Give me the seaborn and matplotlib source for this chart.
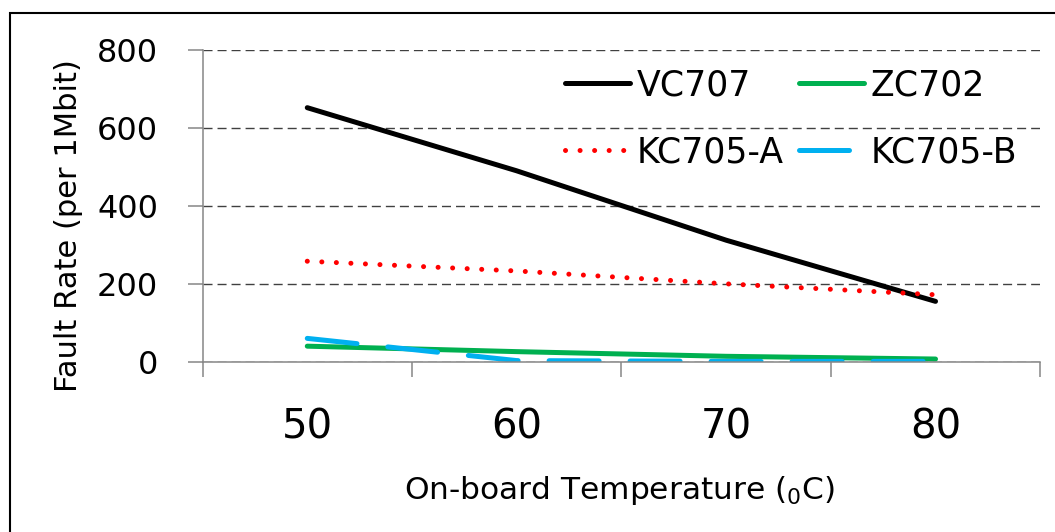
import numpy as np
import pandas as pd
import matplotlib
matplotlib.use("Agg")
import matplotlib.pyplot as plt
from matplotlib.patches import Rectangle
import seaborn as sns

# values
temps = [50, 60, 70, 80]
vc707 = [652, 490, 312, 155]
zc702 = [40, 26, 14, 7]
kc705_a = [258, 233, 200, 172]
kc705_b = [60, 3, 1, 1]
series_names = ["VC707", "ZC702", "KC705-A", "KC705-B"]

data = pd.DataFrame({
    "temp": temps * 4,
    "rate": vc707 + zc702 + kc705_a + kc705_b,
    "board": [n for n in series_names for _ in temps],
})

sns.set_theme(style="white")
plt.rcParams["font.family"] = ["DejaVu Sans"]
plt.rcParams["mathtext.default"] = "regular"
plt.rcParams["text.color"] = "black"
plt.rcParams["axes.labelcolor"] = "black"
plt.rcParams["xtick.color"] = "black"
plt.rcParams["ytick.color"] = "black"

fig = plt.figure(figsize=(10.55, 5.32), dpi=100)
ax = fig.add_axes([0.192, 0.320, 0.794, 0.586])

colors = {"VC707": "#000000", "ZC702": "#00b050", "KC705-A": "#ff0000", "KC705-B": "#00b0f0"}
styles = {"VC707": "-", "ZC702": "-", "KC705-A": (0, (0.01, 2.9)), "KC705-B": (0, (10, 6.2))}

for name in series_names:
    sub = data[data["board"] == name]
    sns.lineplot(data=sub, x="temp", y="rate", ax=ax, color=colors[name],
                 linewidth=3.6, linestyle=styles[name], label=name,
                 dash_capstyle="round", solid_capstyle="round")

ax.set_xlim(45, 85)
ax.set_ylim(0, 800)
ax.set_yticks([0, 200, 400, 600, 800])
ax.set_xticks(temps)
ax.set_xticks([45, 55, 65, 75, 85], minor=True)
ax.tick_params(axis="x", which="major", length=0, pad=33, labelsize=29)
ax.tick_params(axis="x", which="minor", length=11, width=1.1, color="#868686", direction="out", bottom=True)
ax.tick_params(axis="y", length=11, width=1.1, color="#868686", labelcolor="black", pad=21, labelsize=23, left=True)

ax.yaxis.grid(True, linestyle=(0, (6.5, 3.6)), color="#404040", linewidth=1.0)
ax.xaxis.grid(False)
for s in ["top", "right"]:
    ax.spines[s].set_visible(False)
for s in ["left", "bottom"]:
    ax.spines[s].set_color("#868686")
    ax.spines[s].set_linewidth(1.1)

ax.set_xlabel("On-board Temperature ($_{0}$C)", fontsize=22.5)
ax.set_ylabel("Fault Rate (per 1Mbit)", fontsize=22)
ax.xaxis.set_label_coords(0.498, -0.36)
ax.yaxis.set_label_coords(-0.143, 0.436)

# legend: two columns, rows ordered VC707, ZC702 / KC705-A, KC705-B
handles, labels = ax.get_legend_handles_labels()
order = [0, 2, 1, 3]
ax.legend([handles[i] for i in order], [labels[i] for i in order], ncol=2,
          loc="upper left", bbox_to_anchor=(0.536, 0.872), bbox_transform=fig.transFigure,
          frameon=False, fontsize=25, handlelength=1.85, handletextpad=0.2,
          columnspacing=0.45, labelspacing=0.95, borderpad=0, borderaxespad=0)

fig.patches.append(Rectangle((10 / 1055, -0.1), 1.2, 1.1 - 13 / 532,
                             transform=fig.transFigure, fill=False, edgecolor="black",
                             linewidth=1.5, clip_on=False))

fig.savefig("out.png", dpi=100)
